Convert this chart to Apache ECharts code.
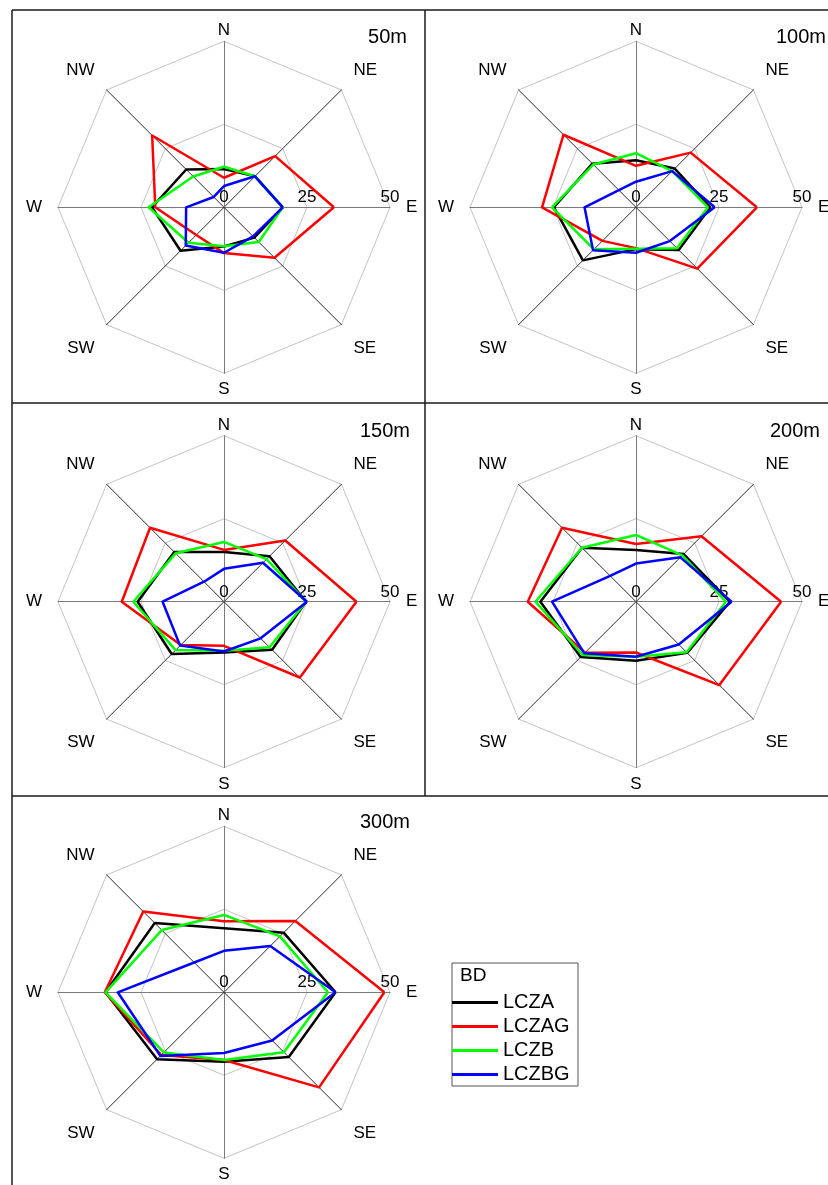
<!DOCTYPE html>
<html>
<head>
<meta charset="utf-8">
<script src="https://cdn.jsdelivr.net/npm/echarts@6/dist/echarts.min.js"></script>
<style>
  html, body { margin: 0; padding: 0; background: #ffffff; }
  #chart { width: 828px; height: 1185px; }
</style>
</head>
<body>
<div id="chart"></div>
<script>
// Wind-direction sectors, compass order
const directions = ['N', 'NE', 'E', 'SE', 'S', 'SW', 'W', 'NW'];
// Measurement heights, one rose per height
const heights = ['50m', '100m', '150m', '200m', '300m'];
const radialTicks = [0, 25, 50];
const classes = ['LCZA', 'LCZAG', 'LCZB', 'LCZBG'];
const classColors = ['#000000', '#ff0000', '#00ff00', '#0000ff'];

// One row per height (50m, 100m, 150m, 200m, 300m); columns N, NE, E, SE, S, SW, W, NW
const LCZA = [
  [11.5, 13.2, 17.7, 12.9, 11.8, 18.5, 21.7, 16.1],
  [14.2, 16.5, 22.4, 18.2, 12.6, 22.6, 24.7, 18.6],
  [15.0, 19.4, 24.7, 20.5, 15.3, 22.3, 26.0, 21.2],
  [15.6, 20.3, 28.3, 21.8, 17.8, 23.6, 28.8, 23.0],
  [19.3, 25.4, 33.6, 27.6, 20.9, 28.5, 35.7, 29.5]
];
const LCZAG = [
  [8.9, 21.8, 33.1, 21.5, 13.8, 11.8, 20.7, 30.6],
  [12.5, 23.3, 36.4, 26.1, 12.3, 14.3, 28.3, 30.9],
  [15.6, 26.1, 39.9, 32.3, 13.3, 18.4, 30.8, 31.5],
  [17.4, 27.9, 43.7, 35.5, 15.3, 21.7, 32.6, 31.5],
  [21.4, 30.4, 48.3, 40.5, 20.4, 26.7, 35.9, 34.4]
];
const LCZB = [
  [12.2, 13.2, 17.7, 14.8, 11.7, 15.1, 22.7, 13.1],
  [16.3, 15.4, 21.7, 17.4, 12.5, 17.9, 25.3, 18.2],
  [18.0, 18.1, 24.7, 19.4, 14.8, 20.6, 27.3, 20.6],
  [20.1, 19.7, 27.1, 21.5, 16.6, 22.7, 30.3, 23.0],
  [23.3, 23.8, 31.3, 25.5, 20.4, 25.6, 35.7, 26.5]
];
const LCZBG = [
  [6.4, 13.2, 17.7, 12.4, 13.7, 16.3, 11.4, 4.4],
  [7.7, 15.4, 23.7, 14.4, 13.7, 18.3, 15.5, 7.3],
  [9.9, 16.6, 25.0, 15.6, 15.0, 18.7, 18.5, 8.5],
  [11.5, 18.9, 28.8, 18.2, 16.6, 22.0, 25.3, 11.0],
  [12.5, 19.7, 33.6, 20.5, 18.3, 27.1, 32.0, 12.7]
];
const classValues = [LCZA, LCZAG, LCZB, LCZBG];

const FONT = '"Liberation Sans", Arial, Helvetica, sans-serif';

// Panel layout
const centers = [[224, 207.3], [636, 207.3], [224, 601.7], [636, 601.7], [224, 992.3]];
const roseRadius = 166;
const titlePos = [[407, 37], [826, 37], [410, 431], [820, 431], [410, 822]];

// Radar axes run counter-clockwise starting from the east
const axisOrder = ['E', 'NE', 'N', 'NW', 'W', 'SW', 'S', 'SE'];
const axisIdx = axisOrder.map(d => directions.indexOf(d));

function nameGapFor(d) {
  if (d === 'N') return 2;
  if (d === 'S') return 8;
  if (d === 'E' || d === 'W') return 16;
  return 17;
}

const nameStyle = { color: '#000', fontSize: 17, fontFamily: FONT };

const radars = centers.map(c => ({
  center: c,
  radius: roseRadius,
  startAngle: 0,
  shape: 'polygon',
  splitNumber: radialTicks.length - 1,
  axisName: {
    color: '#000', fontSize: 17, fontFamily: FONT,
    // diagonal names sit a little further out along the vertical
    formatter: name => {
      if (name === 'NE' || name === 'NW') return '{up|' + name + '}';
      if (name === 'SE' || name === 'SW') return '{dn|' + name + '}';
      return name;
    },
    rich: {
      up: Object.assign({ padding: [0, 0, 16, 0] }, nameStyle),
      dn: Object.assign({ padding: [23, 0, 0, 0] }, nameStyle)
    }
  },
  splitLine: { show: true, lineStyle: { color: '#c4c4c4', width: 1 } },
  splitArea: { show: false },
  axisTick: { show: false },
  axisLabel: { show: true, color: '#000', fontSize: 17, fontFamily: FONT, margin: 1 },
  indicator: axisOrder.map(d => {
    const diag = d.length === 2;
    return {
      name: d,
      min: radialTicks[0],
      max: radialTicks[radialTicks.length - 1],
      nameGap: nameGapFor(d),
      axisLine: { show: true, lineStyle: { color: diag ? '#2a2a2a' : '#7a7a7a', width: 1 } },
      axisLabel: { show: d === 'E' }
    };
  })
}));

const series = heights.map((h, i) => ({
  type: 'radar',
  radarIndex: i,
  symbol: 'none',
  silent: true,
  data: classes.map((cls, k) => ({
    name: cls,
    value: axisIdx.map(j => classValues[k][i][j]),
    lineStyle: { color: classColors[k], width: 2.5 },
    itemStyle: { color: classColors[k] }
  }))
}));

// Panel frames
const frameLines = [
  [[12, 10], [828, 10]],
  [[12, 403], [828, 403]],
  [[12, 796], [828, 796]],
  [[12, 10], [12, 1185]],
  [[425, 10], [425, 796]]
];
const graphics = frameLines.map(p => ({
  type: 'line',
  shape: { x1: p[0][0], y1: p[0][1], x2: p[1][0], y2: p[1][1] },
  style: { stroke: '#1a1a1a', lineWidth: 1.5 },
  silent: true
}));
heights.forEach((h, i) => {
  graphics.push({
    type: 'text',
    x: titlePos[i][0], y: titlePos[i][1],
    style: { text: h, fontSize: 20, fontFamily: FONT, fill: '#000', align: 'right', verticalAlign: 'middle' },
    silent: true
  });
});
// Legend frame and heading
graphics.push({
  type: 'rect',
  shape: { x: 452, y: 963, width: 126, height: 123 },
  style: { fill: 'none', stroke: '#555', lineWidth: 1 },
  silent: true
});
graphics.push({
  type: 'text',
  x: 460, y: 976,
  style: { text: 'BD', fontSize: 19, fontFamily: FONT, fill: '#000', align: 'left', verticalAlign: 'middle' },
  silent: true
});

const chart = echarts.init(document.getElementById('chart'), null, { renderer: 'canvas' });
chart.setOption({
  backgroundColor: '#ffffff',
  animation: false,
  radar: radars,
  series: series,
  legend: {
    data: classes,
    orient: 'vertical',
    left: 452,
    top: 992.5,
    padding: 0,
    itemWidth: 46,
    itemHeight: 3,
    itemGap: 4,
    icon: 'rect',
    selectedMode: false,
    textStyle: { fontSize: 20, color: '#000', fontFamily: FONT }
  },
  graphic: graphics
});
</script>
</body>
</html>
